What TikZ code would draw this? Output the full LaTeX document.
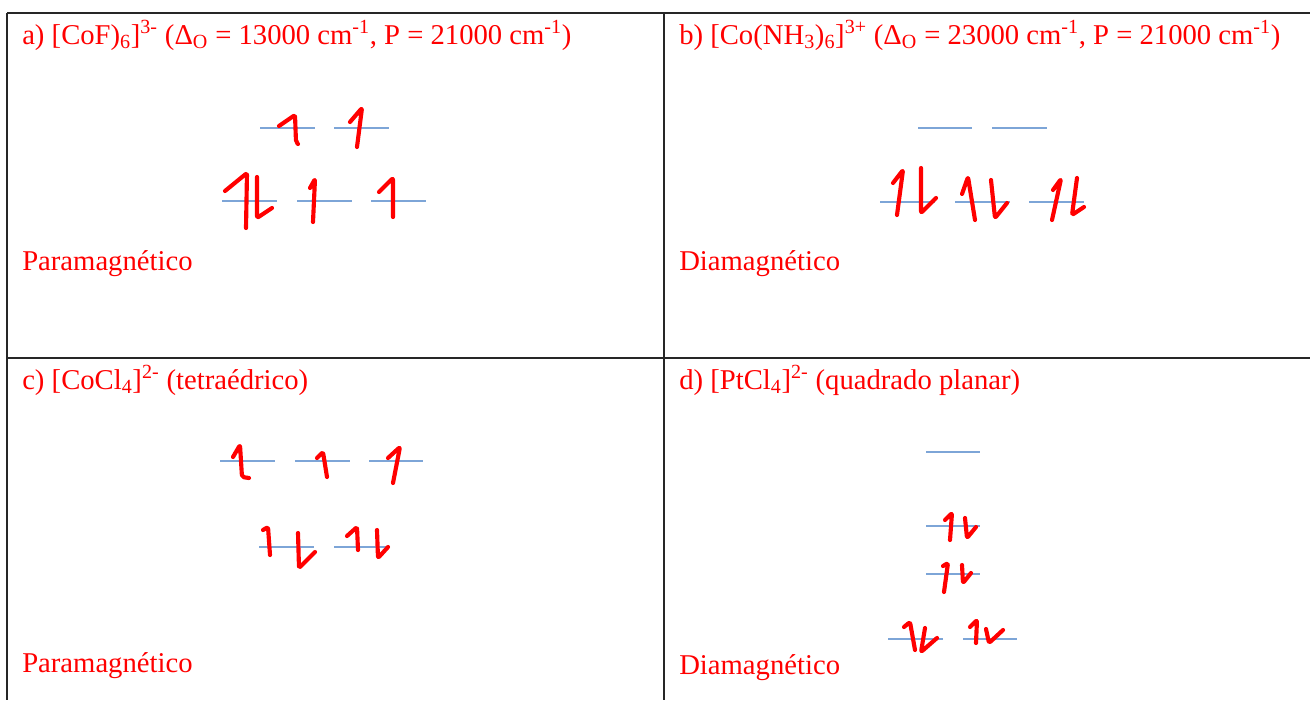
\documentclass[tikz,border=0pt]{standalone}
\usepackage{fontspec}
\setmainfont{Liberation Serif}
\begin{document}
\begin{tikzpicture}[x=0.75pt,y=-0.75pt,
  grid/.style={draw=black!85,line width=0.9pt},
  orb/.style={draw={rgb,255:red,125;green,165;blue,215},line width=1.2pt},
  elec/.style={draw=red,line width=3.1pt,line cap=round,line join=round,rounded corners=1.5pt},
  lbl/.style={anchor=base west,inner sep=0pt,text=red,font=\fontsize{21.5}{24}\selectfont}]
\useasboundingbox (0,0) rectangle (1310,700);
% table
\draw[grid] (7,13) -- (1310,13);
\draw[grid] (7,358) -- (1310,358);
\draw[grid] (7,13) -- (7,700);
\draw[grid] (664,13) -- (664,700);
% headers
\node[lbl] (ha) at (22,44) {a) [CoF)\textsubscript{6}]\textsuperscript{3-} (Δ\textsubscript{O} = 13000 cm\textsuperscript{-1}, P = 21000 cm\textsuperscript{-1})};
\node[lbl] (hb) at (679,44) {b) [Co(NH\textsubscript{3})\textsubscript{6}]\textsuperscript{3+} (Δ\textsubscript{O} = 23000 cm\textsuperscript{-1}, P = 21000 cm\textsuperscript{-1})};
\node[lbl] (hc) at (22,389) {c) [CoCl\textsubscript{4}]\textsuperscript{2-} (tetraédrico)};
\node[lbl] (hd) at (679,389) {d) [PtCl\textsubscript{4}]\textsuperscript{2-} (quadrado planar)};
\node[lbl] (ma) at (22,270) {Paramagnético};
\node[lbl] (mb) at (679,270) {Diamagnético};
\node[lbl] (mc) at (22,672) {Paramagnético};
\node[lbl] (md) at (679,674) {Diamagnético};
% orbitals a
\draw[orb] (260,128) -- (315,128); \draw[orb] (334,128) -- (389,128);
\draw[orb] (222,201) -- (277,201); \draw[orb] (297,201) -- (352,201); \draw[orb] (371,201) -- (426,201);
% orbitals b
\draw[orb] (918,128) -- (972,128); \draw[orb] (992,128) -- (1047,128);
\draw[orb] (880,202) -- (935,202); \draw[orb] (955,202) -- (1010,202); \draw[orb] (1029,202) -- (1084,202);
% orbitals c
\draw[orb] (220,461) -- (275,461); \draw[orb] (295,461) -- (350,461); \draw[orb] (369,461) -- (423,461);
\draw[orb] (259,547) -- (314,547); \draw[orb] (334,547) -- (389,547);
% orbitals d
\draw[orb] (926,452) -- (980,452);
\draw[orb] (926,526) -- (980,526);
\draw[orb] (926,574) -- (980,574);
\draw[orb] (888,639) -- (943,639); \draw[orb] (963,639) -- (1017,639);
% electrons a
\draw[elec] (279,126) -- (295,115) -- (296,142) -- (298,144);
\draw[elec] (350,122) -- (362,108) -- (357,147);
\draw[elec] (225,191) -- (247,173) -- (246,228);
\draw[elec] (257,177) -- (257,218) -- (272,208);
\draw[elec] (310,188) -- (315,179) -- (313,222);
\draw[elec] (379,192) -- (393,178) -- (393,217);
% electrons b
\draw[elec] (893,183) -- (903,170) -- (897,215);
\draw[elec] (921,168) -- (921,213) -- (936,198);
\draw[elec] (962,194) -- (968,177) -- (975,220);
\draw[elec] (991,180) -- (995,218) -- (1007,203);
\draw[elec] (1053,190) -- (1061,179) -- (1052,220);
\draw[elec] (1077,178) -- (1072,215) -- (1084,207);
% electrons c
\draw[elec] (233,457) -- (240,445) -- (242,477) -- (249,478);
\draw[elec] (317,458) -- (323,452) -- (327,477);
\draw[elec] (388,458) -- (400,447) -- (393,483);
\draw[elec] (263,530) -- (268,527) -- (270,555);
\draw[elec] (298,533) -- (299,568) -- (315,552);
\draw[elec] (347,536) -- (357,527) -- (358,550);
\draw[elec] (377,530) -- (378,558) -- (388,547);
% electrons d
\draw[elec] (945,520) -- (952,513) -- (950,540);
\draw[elec] (965,518) -- (967,538) -- (976,527);
\draw[elec] (943,566) -- (948,563) -- (944,592);
\draw[elec] (962,565) -- (963,583) -- (971,573);
\draw[elec] (904,627) -- (910,622) -- (915,650);
\draw[elec] (925,628) -- (921,652) -- (937,638);
\draw[elec] (970,627) -- (977,620) -- (976,643);
\draw[elec] (986,629) -- (989,643) -- (1003,630);
\end{tikzpicture}
\end{document}
